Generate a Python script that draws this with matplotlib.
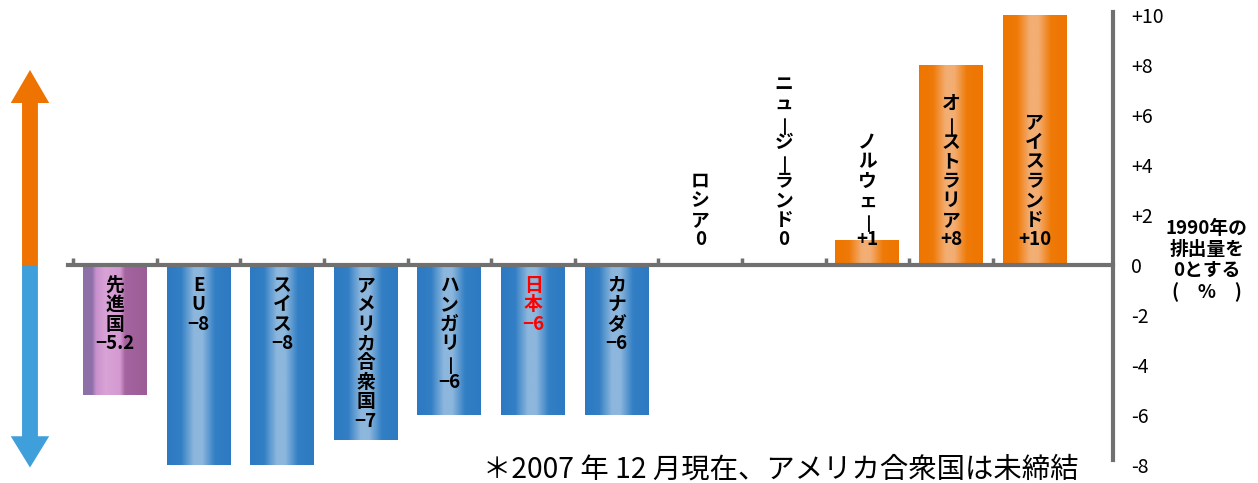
import unicodedata
import matplotlib.pyplot as plt
import numpy as np
from matplotlib.colors import LinearSegmentedColormap
from matplotlib.patches import FancyArrow

plt.rcParams['font.family'] = ['Noto Sans CJK JP', 'DejaVu Sans']

countries = ['先進国', 'EU', 'スイス', 'アメリカ合衆国', 'ハンガリー', '日本', 'カナダ',
             'ロシア', 'ニュージーランド', 'ノルウェー', 'オーストラリア', 'アイスランド']
values = [-5.2, -8, -8, -7, -6, -6, -6, 0, 0, 1, 8, 10]
value_labels = ['−5.2', '−8', '−8', '−7', '−6', '−6', '−6', '0', '0', '+1', '+8', '+10']
ytick_values = [10, 8, 6, 4, 2, 0, -2, -4, -6, -8]
ytick_labels = ['+10', '+8', '+6', '+4', '+2', '0', '-2', '-4', '-6', '-8']
unit_note = '1990年の\n排出量を\n0とする\n(　%　)'
footnote = '＊2007 年 12 月現在、アメリカ合衆国は未締結'

gray = '#707070'
LH = 14.0  # line step of the vertical labels, points


def is_bar_char(c):
    # long vowel mark is turned upright in vertical writing
    return 'PROLONGED' in unicodedata.name(c, '')


blue_cmap = LinearSegmentedColormap.from_list('blue', [
    (0, '#2E7AC2'), (0.22, '#337FC5'), (0.42, '#8DB7DD'), (0.55, '#8DB7DD'),
    (0.75, '#337FC5'), (1, '#2E7AC2')])
orange_cmap = LinearSegmentedColormap.from_list('orange', [
    (0, '#EE7500'), (0.22, '#EF7A08'), (0.42, '#F3AE74'), (0.55, '#F3AE74'),
    (0.75, '#EF7A08'), (1, '#EE7500')])
purple_cmap = LinearSegmentedColormap.from_list('purple', [
    (0, '#8E70A8'), (0.14, '#8E70A8'), (0.2, '#C890CC'), (0.35, '#D9A3D7'),
    (0.58, '#D49AD1'), (0.66, '#A4649F'), (1, '#9C5D97')])

fig = plt.figure(figsize=(12.58, 4.83), dpi=100)
ax = fig.add_axes([0, 0, 1, 1])

x = np.arange(len(countries))
bars = ax.bar(x, values, width=0.765, color='none', zorder=1)

grad = np.linspace(0, 1, 200).reshape(1, -1)
for i, (bar, v) in enumerate(zip(bars, values)):
    if v == 0:
        continue
    if i == 0:
        cmap = purple_cmap
    elif v < 0:
        cmap = blue_cmap
    else:
        cmap = orange_cmap
    x0 = bar.get_x()
    x1 = x0 + bar.get_width()
    y0 = bar.get_y()
    y1 = y0 + bar.get_height()
    ax.imshow(grad, cmap=cmap, extent=[x0, x1, y0, y1], aspect='auto',
              interpolation='bicubic', zorder=1)

# vertical labels: one character per line
for i, (name, lab, v) in enumerate(zip(countries, value_labels, values)):
    lines = list(name) + [lab]
    n = len(lines)
    col = 'red' if name == '日本' else 'black'
    for k, ch in enumerate(lines):
        if v < 0:
            anchor = -0.42
            dy = -(k + 0.5) * LH
        else:
            anchor = 0.62
            dy = (n - 1 - k + 0.5) * LH
        if len(ch) == 1 and is_bar_char(ch):
            ax.annotate(ch, (i, anchor), xytext=(1.5, dy), textcoords='offset points',
                        ha='center', va='center', rotation=90,
                        fontsize=15, color=col, zorder=3)
        else:
            ax.annotate(ch, (i, anchor), xytext=(0, dy), textcoords='offset points',
                        ha='center', va='center', fontsize=13.5,
                        fontweight='bold', color=col, zorder=3)

# up / down arrows on the left
ax.add_patch(FancyArrow(-1.017, 0, 0, 7.8, width=0.19, head_width=0.46,
                        head_length=1.32, length_includes_head=True,
                        color='#EE7300', lw=0))
ax.add_patch(FancyArrow(-1.017, 0, 0, -8.1, width=0.19, head_width=0.46,
                        head_length=1.25, length_includes_head=True,
                        color='#3F9FDA', lw=0))

ax.set_xlim(-1.3756, 13.672)
ax.set_ylim(-8.72, 10.6)

for s in ['top', 'left']:
    ax.spines[s].set_visible(False)
ax.spines['bottom'].set_position(('data', 0))
ax.spines['bottom'].set_bounds(-0.56, 11.94)
ax.spines['right'].set_position(('data', 11.94))
ax.spines['right'].set_bounds(-7.8, 10.12)
for s in ['bottom', 'right']:
    ax.spines[s].set_color(gray)
    ax.spines[s].set_linewidth(3)
    ax.spines[s].set_zorder(2.5)

ax.set_xticks(x - 0.5)
ax.set_xticklabels([])
ax.tick_params(axis='x', direction='in', length=5, width=2.5, color=gray)
ax.yaxis.tick_right()
ax.set_yticks(ytick_values)
ax.set_yticklabels(ytick_labels)
ax.tick_params(axis='y', length=0, pad=13, labelsize=14)

ax.text(13.06, 1.85, unit_note, ha='center', va='top', fontsize=13.5,
        fontweight='bold', linespacing=1.15)
ax.text(4.402, -8.2, footnote, ha='left', va='center', fontsize=20.4)

fig.savefig('out.png', dpi=100)
